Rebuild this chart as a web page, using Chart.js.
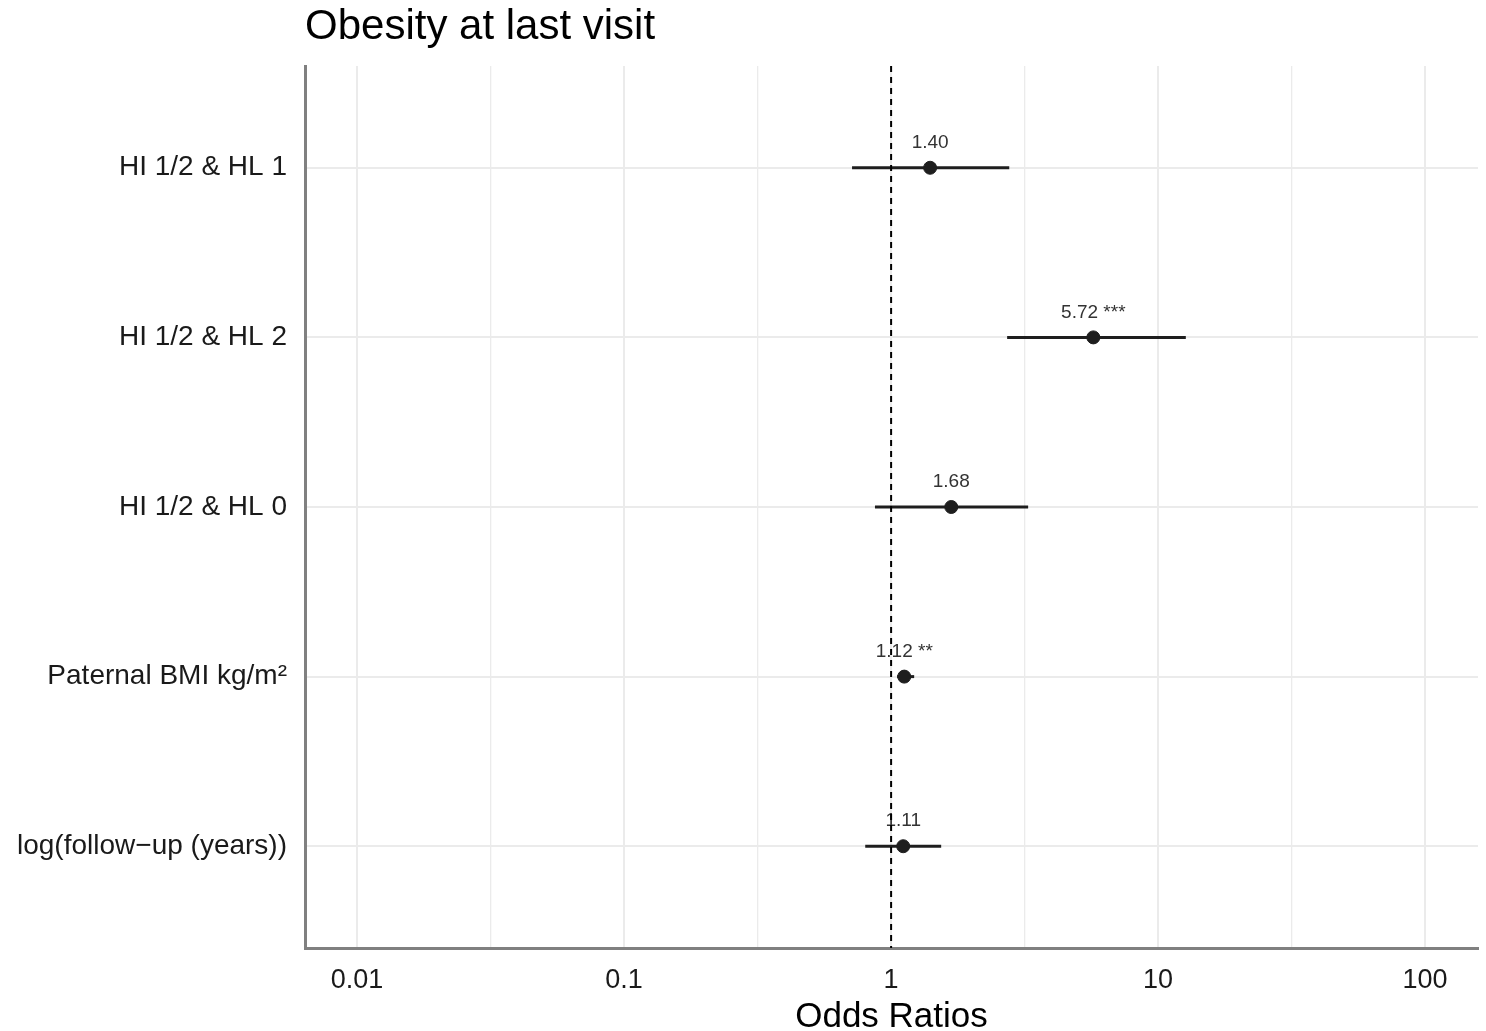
<!DOCTYPE html>
<html>
<head>
<meta charset="utf-8">
<script src="https://cdn.jsdelivr.net/npm/chart.js@4.4.1/dist/chart.umd.min.js"></script>
<style>
  html, body { margin: 0; padding: 0; background: #ffffff; }
  #wrap { width: 1486px; height: 1031px; position: relative; }
</style>
</head>
<body>
<div id="wrap"><canvas id="c" width="1486" height="1031"></canvas></div>
<script>
// ---- Data ----
const categories = ['HI 1/2 & HL 1', 'HI 1/2 & HL 2', 'HI 1/2 & HL 0', 'Paternal BMI kg/m\u00B2', 'log(follow\u2212up (years))'];
const oddsRatios = [1.40, 5.72, 1.68, 1.12, 1.11];
const ciLow = [0.714, 2.72, 0.87, 1.053, 0.80];
const ciHigh = [2.77, 12.7, 3.26, 1.22, 1.54];
const pointLabels = ['1.40', '5.72 ***', '1.68', '1.12 **', '1.11'];
const xMajorTicks = [0.01, 0.1, 1, 10, 100];
const xMajorLabels = ['0.01', '0.1', '1', '10', '100'];
const xMinorTicks = [0.0316, 0.316, 3.16, 31.6];
const titleText = 'Obesity at last visit';
const xTitleText = 'Odds Ratios';
const referenceValue = 1;

// ---- Datasets ----
const positions = categories.map((c, i) => i + 1);
const datasets = [];
datasets.push({
  type: 'line',
  label: 'reference',
  data: [{x: referenceValue, y: 0.4}, {x: referenceValue, y: 5.6}],
  borderColor: '#000000',
  borderWidth: 2,
  borderDash: [6, 5],
  pointRadius: 0,
  order: 0
});
datasets.push({
  type: 'scatter',
  label: 'OR',
  data: oddsRatios.map((v, i) => ({x: v, y: positions[i]})),
  backgroundColor: '#1e1e1e',
  borderColor: '#1e1e1e',
  pointRadius: 6.5,
  pointHoverRadius: 6.5,
  order: 1
});
categories.forEach((c, i) => {
  datasets.push({
    type: 'line',
    label: 'CI ' + c,
    data: [{x: ciLow[i], y: positions[i]}, {x: ciHigh[i], y: positions[i]}],
    borderColor: '#1e1e1e',
    borderWidth: 3,
    pointRadius: 0,
    order: 2
  });
});

const labelPlugin = {
  id: 'pointLabels',
  beforeDatasetsDraw(chart) {
    const ctx = chart.ctx;
    const xs = chart.scales.x, ys = chart.scales.y;
    ctx.save();
    ctx.font = '19px "Liberation Sans", Arial, sans-serif';
    ctx.fillStyle = '#333333';
    ctx.textAlign = 'center';
    ctx.textBaseline = 'middle';
    pointLabels.forEach((t, i) => {
      ctx.fillText(t, xs.getPixelForValue(oddsRatios[i]), ys.getPixelForValue(positions[i]) - 25);
    });
    ctx.restore();
  },
  afterDraw(chart) {
    const ctx = chart.ctx;
    ctx.save();
    ctx.font = '42px "Liberation Sans", Arial, sans-serif';
    ctx.fillStyle = '#000000';
    ctx.textAlign = 'left';
    ctx.textBaseline = 'middle';
    ctx.fillText(titleText, chart.chartArea.left, 27);
    ctx.restore();
  }
};

new Chart(document.getElementById('c'), {
  data: { datasets },
  plugins: [labelPlugin],
  options: {
    responsive: false,
    animation: false,
    events: [],
    layout: { padding: { top: 66, left: 0, right: 8, bottom: 0 } },
    plugins: { legend: { display: false }, tooltip: { enabled: false }, title: { display: false } },
    scales: {
      x: {
        type: 'logarithmic',
        position: 'bottom',
        min: 0.00638,
        max: 157.8,
        afterFit(scale) { scale.height = 83; },
        afterBuildTicks(scale) {
          scale.ticks = xMajorTicks.concat(xMinorTicks).sort((a, b) => a - b).map(v => ({value: v, major: xMajorTicks.includes(v)}));
        },
        ticks: {
          autoSkip: false,
          maxRotation: 0,
          padding: 16,
          color: '#1a1a1a',
          font: { size: 27, family: '"Liberation Sans", Arial, sans-serif' },
          callback(value) {
            const idx = xMajorTicks.indexOf(value);
            return idx >= 0 ? xMajorLabels[idx] : '';
          }
        },
        grid: {
          drawTicks: false,
          color: '#ebebeb',
          lineWidth(ctx) { return ctx.tick && xMajorTicks.includes(ctx.tick.value) ? 2 : 1.3; }
        },
        border: { display: true, color: '#808080', width: 3 },
        title: {
          display: true,
          text: xTitleText,
          color: '#000000',
          font: { size: 35, family: '"Liberation Sans", Arial, sans-serif', lineHeight: 1.0 },
          padding: { top: 0, bottom: -4 }
        }
      },
      y: {
        type: 'linear',
        reverse: true,
        min: 0.4,
        max: 5.6,
        afterFit(scale) { scale.width = 305; },
        afterBuildTicks(scale) {
          scale.ticks = positions.map(v => ({value: v}));
        },
        ticks: {
          autoSkip: false,
          padding: 18,
          color: '#1a1a1a',
          font: { size: 28, family: '"Liberation Sans", Arial, sans-serif' },
          callback(value) { return categories[value - 1]; }
        },
        grid: { drawTicks: false, color: '#ebebeb', lineWidth: 2 },
        border: { display: true, color: '#808080', width: 3 }
      }
    }
  }
});
</script>
</body>
</html>
